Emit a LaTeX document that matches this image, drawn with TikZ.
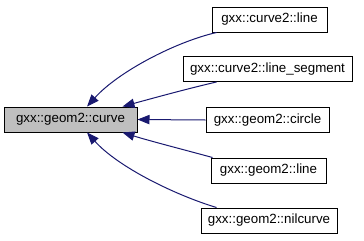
\documentclass[tikz,border=0pt]{standalone}
\usepackage{fontspec}
\setmainfont{Liberation Sans}
\usetikzlibrary{arrows.meta}
\definecolor{edgeblue}{HTML}{191970}
\definecolor{focusgray}{HTML}{BFBFBF}
\tikzset{
  classbox/.style={draw=black, line width=0.75pt, fill=white, inner sep=0pt,
    minimum height=18.75pt, font=\fontsize{10}{12}\selectfont, anchor=center},
  focusbox/.style={classbox, fill=focusgray},
  inherit/.style={draw=edgeblue, line width=0.75pt,
    -{Triangle[length=9pt,width=7pt,fill=edgeblue]}},
}
\begin{document}
\begin{tikzpicture}[x=0.75pt,y=-0.75pt]
  \useasboundingbox (0,0) rectangle (364,240);

  % base class
  \node[focusbox, minimum width=99.75pt] (curve) at (70.5,119.5) {gxx::geom2::curve};

  % derived classes
  \node[classbox, minimum width=86.25pt]  (cline)  at (269.5,19.5)  {gxx::curve2::line};
  \node[classbox, minimum width=126.75pt] (cseg)   at (267.5,69)    {gxx::curve2::line\_segment};
  \node[classbox, minimum width=92.25pt]  (circle) at (267.5,120)   {gxx::geom2::circle};
  \node[classbox, minimum width=86.25pt]  (gline)  at (268.5,170.5) {gxx::geom2::line};
  \node[classbox, minimum width=102pt]    (nil)    at (269,220.5)   {gxx::geom2::nilcurve};

  % inheritance arrows
  \draw[inherit] ([xshift=3.75pt]cline.south west)
    .. controls (175,42) and (118,72) .. ([xshift=12.4pt]curve.north);
  \draw[inherit] ([xshift=25.5pt]cseg.south west)
    .. controls (190,88) and (150,99) .. ([xshift=-11.25pt]curve.north east);
  \draw[inherit] (circle.west) -- (curve.east);
  \draw[inherit] ([xshift=1.5pt]gline.north west)
    .. controls (185,150) and (150,141) .. ([xshift=-11.25pt]curve.south east);
  \draw[inherit] ([xshift=12pt]nil.north west)
    .. controls (175,195) and (118,167) .. ([xshift=12.4pt]curve.south);
\end{tikzpicture}
\end{document}
